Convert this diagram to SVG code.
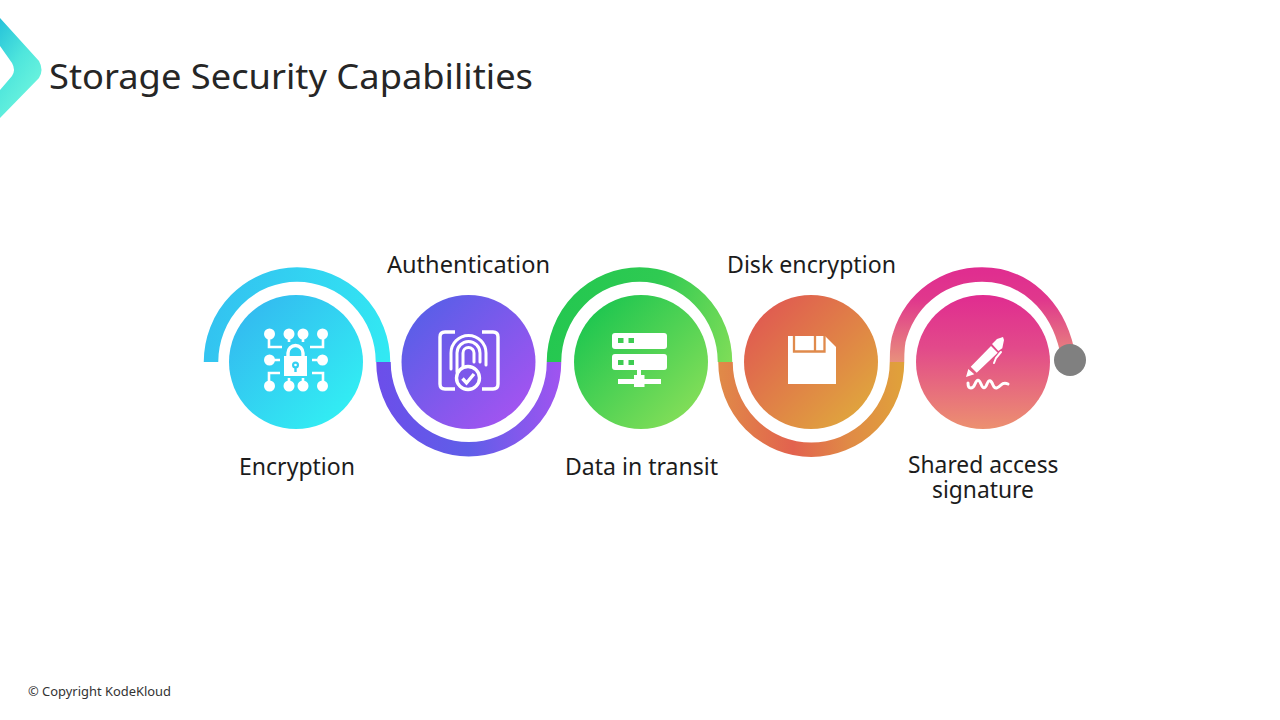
<svg xmlns="http://www.w3.org/2000/svg" width="1280" height="720" viewBox="0 0 1280 720">
<style>
text{font-family:"Noto Sans","Open Sans","Liberation Sans",sans-serif;fill:#1c1c1c}
.t{font-size:35px;fill:#262626}
.l{font-size:24px}
.l2{font-size:22.800px}
.c{font-size:13px;fill:#333}
.a{fill:none;stroke-width:14.5}
.w{fill:#fff}
.s{fill:none;stroke:#fff;stroke-width:3.400}
.m{fill:none;stroke:#fff;stroke-width:3;stroke-linecap:round}
</style>
<defs>
<linearGradient id="gl" x1="0" y1="0" x2=".6" y2="1"><stop offset="0" stop-color="#25c2da"/><stop offset=".5" stop-color="#4fe6dc"/><stop offset="1" stop-color="#70f6de"/></linearGradient>
<linearGradient id="c1" x1=".15" y1=".15" x2=".85" y2=".85"><stop offset="0" stop-color="#33bdf0"/><stop offset="1" stop-color="#32ecf3"/></linearGradient>
<linearGradient id="c2" x1=".15" y1=".15" x2=".85" y2=".85"><stop offset="0" stop-color="#5c5ee8"/><stop offset="1" stop-color="#a054f0"/></linearGradient>
<linearGradient id="c3" x1=".15" y1=".15" x2=".85" y2=".85"><stop offset="0" stop-color="#22c750"/><stop offset="1" stop-color="#7fdd58"/></linearGradient>
<linearGradient id="c4" x1=".15" y1=".15" x2=".85" y2=".85"><stop offset="0" stop-color="#e05e50"/><stop offset="1" stop-color="#e0a23e"/></linearGradient>
<linearGradient id="c5" x1="0" y1="0" x2="0" y2="1"><stop offset="0" stop-color="#e02c90"/><stop offset=".4" stop-color="#e24a8a"/><stop offset="1" stop-color="#ec9070"/></linearGradient>
<linearGradient id="a1" gradientUnits="userSpaceOnUse" x1="204" y1="300" x2="390" y2="362"><stop offset="0" stop-color="#33c0f0"/><stop offset="1" stop-color="#32eaf3"/></linearGradient>
<linearGradient id="a2" gradientUnits="userSpaceOnUse" x1="376" y1="362" x2="561" y2="362"><stop offset="0" stop-color="#6c4eea"/><stop offset=".5" stop-color="#5f5ee8"/><stop offset="1" stop-color="#a054f0"/></linearGradient>
<linearGradient id="a3" gradientUnits="userSpaceOnUse" x1="547" y1="290" x2="732" y2="362"><stop offset="0" stop-color="#22c750"/><stop offset=".5" stop-color="#2fca52"/><stop offset="1" stop-color="#7fdd58"/></linearGradient>
<linearGradient id="a4" gradientUnits="userSpaceOnUse" x1="719" y1="362" x2="904" y2="362"><stop offset="0" stop-color="#e08a48"/><stop offset=".4" stop-color="#e2624e"/><stop offset=".7" stop-color="#e08a46"/><stop offset="1" stop-color="#e0a23a"/></linearGradient>
<linearGradient id="a5" gradientUnits="userSpaceOnUse" x1="0" y1="267" x2="0" y2="362"><stop offset="0" stop-color="#e02c90"/><stop offset=".35" stop-color="#e0388c"/><stop offset="1" stop-color="#e8907c"/></linearGradient>
</defs>

<g id="logo"><path d="M0 18 39 61Q44 70 39 78L0 118V90L12 76Q16 70 12 63L0 46Z" fill="url(#gl)"/></g>
<text class="t" x="49" y="89" textLength="484" lengthAdjust="spacingAndGlyphs">Storage Security Capabilities</text>

<g id="connectors">
<path class="a" stroke="url(#a1)" d="M211 362A86 87.500 0 0 1 383 362"/>
<path class="a" stroke="url(#a2)" d="M383.500 362A85 87 0 0 0 554 362"/>
<path class="a" stroke="url(#a3)" d="M554 362A85.500 87.500 0 0 1 725 362"/>
<path class="a" stroke="url(#a4)" d="M725.500 362A85 87 0 0 0 897 362"/>
<path class="a" stroke="url(#a5)" d="M897 362C897 345 898 340 900 335C912 297 945 274.500 982 274.500C1024 274.500 1057 305 1067 350"/>
<circle cx="1070" cy="360" r="16" fill="#808080"/>
</g>

<g id="node-encryption">
<circle cx="296" cy="362" r="67" fill="url(#c1)"/>
<g class="w">
<circle cx="269.500" cy="334" r="5.500"/><circle cx="289" cy="334" r="5.500"/><circle cx="303" cy="334" r="5.500"/><circle cx="322.500" cy="334" r="5.500"/>
<circle cx="269.500" cy="360" r="5.500"/><circle cx="322.500" cy="360" r="5.500"/>
<circle cx="269.500" cy="386" r="5.500"/><circle cx="289" cy="386" r="5.500"/><circle cx="303" cy="386" r="5.500"/><circle cx="322.500" cy="386" r="5.500"/>
<path d="M284 356H307V376H284Z"/>
</g>
<path d="M269 336V347H282M323 336V347H310M270 360H280M323 360H312M269 384V373H280M323 384V373H312M289 336V342M303 336V342M289 384V378M303 384V378" fill="none" stroke="#fff" stroke-width="2.600"/>
<path d="M288 357V353A7.500 7.500 0 0 1 303 353V357" class="s"/>
<circle cx="295.500" cy="365" r="3.500" fill="#33d0f2"/><path d="M294.300 366H296.700V372H294.300Z" fill="#33d0f2"/><circle cx="295.500" cy="365" r="1.300" fill="#fff"/>
<text class="l" x="239" y="475" textLength="116" lengthAdjust="spacingAndGlyphs">Encryption</text>
</g>

<g id="node-authentication">
<circle cx="468.500" cy="362" r="67" fill="url(#c2)"/>
<path class="s" d="M455 332H445Q440 332 440 337V384Q440 389 445 389H455M482 332H493Q498 332 498 337V384Q498 389 493 389H482"/>
<path class="m" d="M451 369V353A17.500 17.500 0 0 1 486 353V365M457 372V353A11.500 11.500 0 0 1 480 353V362M463 368V353A5.500 5.500 0 0 1 474 353V362"/>
<circle cx="468" cy="378" r="11.500" fill="#7b58ea" stroke="#fff" stroke-width="3.400"/>
<path d="M462.500 378.500 466.500 383 474 374" fill="none" stroke="#fff" stroke-width="3.400"/>
<text class="l" x="387" y="273" textLength="163" lengthAdjust="spacingAndGlyphs">Authentication</text>
</g>

<g id="node-data-in-transit">
<circle cx="641" cy="362" r="67" fill="url(#c3)"/>
<rect class="w" x="612" y="333" width="55" height="16" rx="3"/>
<rect class="w" x="612" y="354" width="55" height="16" rx="3"/>
<path fill="#3ecc52" d="M618 338h5.500v5H618ZM628.500 338h5.500v5h-5.500ZM618 360h5.500v5H618ZM628.500 360h5.500v5h-5.500Z"/>
<path class="w" d="M637 370H641V375H644.500V379H661V384H644.500V387H634V384H618V379H634V375H637Z"/>
<text class="l" x="565" y="475" textLength="153" lengthAdjust="spacingAndGlyphs">Data in transit</text>
</g>

<g id="node-disk-encryption">
<circle cx="811" cy="362" r="67" fill="url(#c4)"/>
<path class="w" d="M788 336H825L836 347V384H788Z"/>
<path d="M794 336V351.500H824.500V336M815 336V351.500" fill="none" stroke="#e08a4c" stroke-width="2.300"/>
<text class="l" x="727" y="273" textLength="169" lengthAdjust="spacingAndGlyphs">Disk encryption</text>
</g>

<g id="node-shared-access-signature">
<circle cx="983" cy="362" r="67" fill="url(#c5)"/>
<path class="w" d="M966 377 968.300 369 974.300 374.300ZM970.700 366.700 991 346 997.700 352.700 976.700 372.700ZM992 344 997 339 1003 337 1004 340 1002.300 348.300 998.300 351Z"/>
<path d="M1001 352 996 358 994 363" fill="none" stroke="#fff" stroke-width="2" stroke-linecap="round"/>
<path class="m" d="M968 383C968 390 973 389 975 384C977 379 979 379 981 384C983 389 985 389 987 384C989 379 991 380 993 385C995 390 998 388 1001 385C1003 383 1006 383 1008 384"/>
<text class="l2"><tspan x="908" y="473">Shared access</tspan><tspan x="932" y="498">signature</tspan></text>
</g>

<text class="c" x="28" y="696" textLength="143" lengthAdjust="spacingAndGlyphs">© Copyright KodeKloud</text>
</svg>
